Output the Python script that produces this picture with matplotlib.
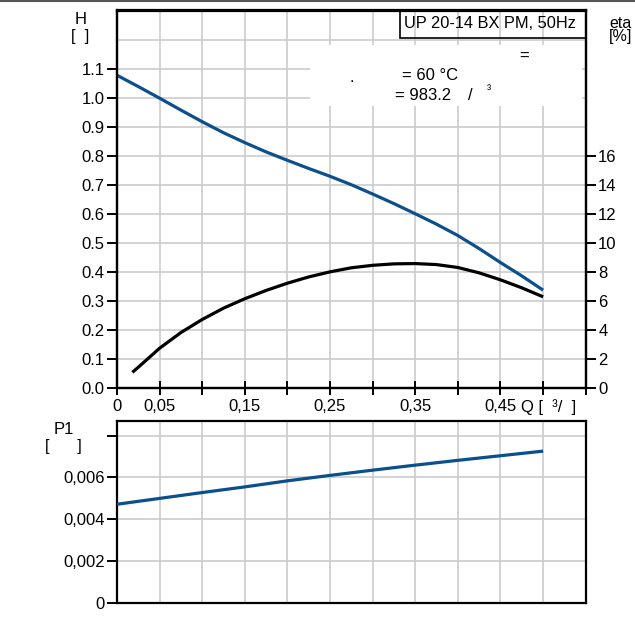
import matplotlib
matplotlib.use("Agg")
import matplotlib.pyplot as plt
from matplotlib.patches import Rectangle

plt.rcParams["font.family"] = ["Liberation Sans", "DejaVu Sans"]

# pump curve readings (Q in m3/h)
q_h = [0, 0.025, 0.05, 0.075, 0.1, 0.125, 0.15, 0.175, 0.2, 0.225, 0.25,
       0.275, 0.3, 0.325, 0.35, 0.375, 0.4, 0.425, 0.45, 0.475, 0.5]
head = [1.077, 1.038, 0.998, 0.957, 0.917, 0.879, 0.845, 0.813, 0.784, 0.756, 0.729,
        0.700, 0.668, 0.635, 0.600, 0.564, 0.525, 0.480, 0.432, 0.386, 0.337]

q_eta = [0.018, 0.025, 0.05, 0.075, 0.1, 0.125, 0.15, 0.175, 0.2, 0.225, 0.25,
         0.275, 0.3, 0.325, 0.35, 0.375, 0.4, 0.425, 0.45, 0.475, 0.5]
eta = [1.08, 1.43, 2.74, 3.82, 4.72, 5.5, 6.15, 6.72, 7.22, 7.65, 8.0,
       8.28, 8.45, 8.55, 8.57, 8.5, 8.3, 7.93, 7.45, 6.9, 6.28]

q_p = [0, 0.05, 0.1, 0.15, 0.2, 0.25, 0.3, 0.35, 0.4, 0.45, 0.5]
p1 = [0.00472, 0.0050, 0.00528, 0.00555, 0.00584, 0.0061, 0.00635, 0.00659, 0.00682, 0.00704, 0.00726]

q_ticks = [0, 0.05, 0.1, 0.15, 0.2, 0.25, 0.3, 0.35, 0.4, 0.45, 0.5, 0.55]
q_labels = ["0", "0,05", "", "0,15", "", "0,25", "", "0,35", "", "0,45", "", ""]
h_ticks = [0.0, 0.1, 0.2, 0.3, 0.4, 0.5, 0.6, 0.7, 0.8, 0.9, 1.0, 1.1]
eta_ticks = [0, 2, 4, 6, 8, 10, 12, 14, 16]
p_ticks = [0, 0.002, 0.004, 0.006, 0.008]
p_labels = ["0", "0,002", "0,004", "0,006", ""]

BLUE = "#0b4f8c"
GRID = "#cccccc"
W, H = 635, 619
FS = 12

fig = plt.figure(figsize=(W / 100, H / 100), dpi=100)


def fx(px):
    return px / W


def fy(py):
    return 1 - py / H


ax = fig.add_axes([fx(117), fy(388), fx(585.7) - fx(117), fy(10.5) - fy(388)])
ax2 = fig.add_axes([fx(117), fy(603), fx(585.7) - fx(117), fy(421) - fy(603)])

# top chart
ax.set_xlim(0, 0.55)
ax.set_ylim(0, 1.3)
for x in q_ticks[1:-1]:
    ax.axvline(x, color=GRID, lw=1.2, zorder=0)
for y in [0.1, 0.2, 0.3, 0.4, 0.5, 0.6, 0.7, 0.8, 0.9, 1.0, 1.1, 1.2]:
    ax.axhline(y, color=GRID, lw=1.2, zorder=0)

ax.plot(q_h, head, color=BLUE, lw=2.3, solid_capstyle="butt", zorder=3)

axr = ax.twinx()
axr.set_ylim(0, 26)
axr.plot(q_eta, eta, color="black", lw=2.3, solid_capstyle="butt", zorder=3)
axr.set_yticks(eta_ticks)
axr.set_yticklabels([str(v) for v in eta_ticks])

ax.set_xticks(q_ticks)
ax.set_xticklabels(q_labels)
ax.set_yticks(h_ticks)
ax.set_yticklabels(["%.1f" % v for v in h_ticks])

for a in (ax, axr, ax2):
    for s in a.spines.values():
        s.set_linewidth(1.6)
        s.set_color("black")
    a.tick_params(labelsize=FS, colors="black", width=1.4, length=7, pad=2)
ax.tick_params(axis="x", direction="inout", length=10, pad=3)

# white label area that hides the grid
ax.add_patch(Rectangle((fx(310), fy(106)), fx(582) - fx(310), fy(45) - fy(106),
                       transform=fig.transFigure, facecolor="white",
                       edgecolor="none", zorder=2))
fig.text(fx(524), fy(56), "=", fontsize=FS, ha="center", va="center")
fig.text(fx(352), fy(77), ".", fontsize=FS, ha="center", va="center")
fig.text(fx(402), fy(76), "= 60 °C", fontsize=FS, ha="left", va="center")
fig.text(fx(395), fy(95), "= 983.2", fontsize=FS, ha="left", va="center")
fig.text(fx(470), fy(95), "/", fontsize=FS, ha="center", va="center")
fig.text(fx(489), fy(91), "³", fontsize=9, ha="center", va="center")

fig.text(fx(490), fy(24), "UP 20-14 BX PM, 50Hz", fontsize=11.8, ha="center",
         va="center")
fig.add_artist(Rectangle((fx(400), fy(38)), fx(586) - fx(400), fy(10.5) - fy(38),
                         transform=fig.transFigure, facecolor="none",
                         edgecolor="black", lw=1.2))

fig.text(fx(549), fy(407), "Q [  ³/  ]", fontsize=FS, ha="center", va="center")
fig.text(fx(81), fy(19), "H", fontsize=FS, ha="center", va="center")
fig.text(fx(80), fy(36), "[  ]", fontsize=FS, ha="center", va="center")
fig.text(fx(621), fy(23), "eta", fontsize=11.5, ha="center", va="center")
fig.text(fx(621), fy(37), "[%]", fontsize=11.5, ha="center", va="center")
fig.text(fx(64), fy(430), "P1", fontsize=FS, ha="center", va="center")
fig.text(fx(63), fy(447), "[      ]", fontsize=FS, ha="center", va="center")

# bottom chart
ax2.set_xlim(0, 0.55)
ax2.set_ylim(0, 0.0087)
for x in q_ticks[1:-1]:
    ax2.axvline(x, color=GRID, lw=1.2, zorder=0)
for y in p_ticks[1:]:
    ax2.axhline(y, color=GRID, lw=1.2, zorder=0)
ax2.plot(q_p, p1, color=BLUE, lw=2.3, solid_capstyle="butt", zorder=3)
ax2.set_yticks(p_ticks)
ax2.set_yticklabels(p_labels)
ax2.set_xticks([])

# thin frame line at the very top of the picture
fig.add_artist(plt.Line2D([0, 1], [fy(0.8), fy(0.8)], transform=fig.transFigure,
                          color="#555555", lw=1.5))

fig.savefig("out.png", dpi=100)
